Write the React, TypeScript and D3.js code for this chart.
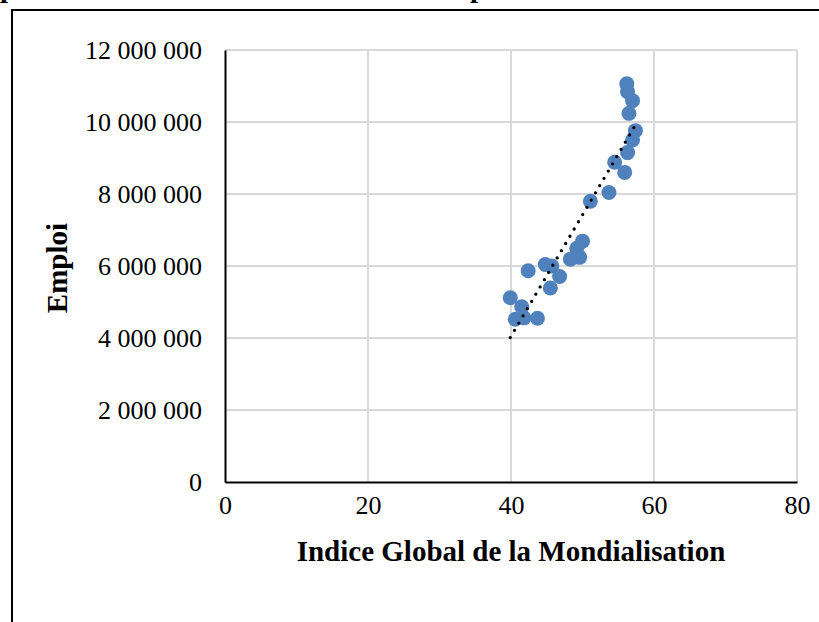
import React, { useEffect, useRef } from 'react';
import * as d3 from 'd3';

// Indice Global de la Mondialisation (x) vs Emploi (y)
const indice: number[] = [
  56.2, 56.3, 57.0, 56.5, 57.4, 57.0, 56.3, 54.5, 55.9, 53.7, 51.1, 50.0, 49.2,
  48.3, 49.6, 44.8, 45.7, 46.8, 42.4, 45.5, 39.9, 41.5, 40.6, 41.8, 43.7,
];
const emploi: number[] = [
  11060000, 10840000, 10590000, 10240000, 9760000, 9500000, 9150000, 8880000,
  8600000, 8040000, 7800000, 6690000, 6490000, 6190000, 6240000, 6040000,
  6000000, 5710000, 5870000, 5390000, 5120000, 4870000, 4520000, 4560000, 4550000,
];
const xTicks: number[] = [0, 20, 40, 60, 80];
const yTicks: number[] = [0, 2000000, 4000000, 6000000, 8000000, 10000000, 12000000];

const xTitle = 'Indice Global de la Mondialisation';
const yTitle = 'Emploi';

export default function App() {
  const ref = useRef<SVGSVGElement>(null);

  useEffect(() => {
    const svg = d3.select(ref.current);
    svg.selectAll('*').remove();

    const left = 225, right = 797, top = 50, bottom = 482;
    const font = '"Liberation Serif", "Times New Roman", serif';

    const x = d3.scaleLinear().domain([0, 80]).range([left, right]);
    const y = d3.scaleLinear().domain([0, 12000000]).range([bottom, top]);

    // frame around the figure (runs off the page right and bottom)
    svg.append('rect')
      .attr('x', 12).attr('y', 10)
      .attr('width', 900).attr('height', 700)
      .attr('fill', 'none').attr('stroke', '#000').attr('stroke-width', 2);

    // cut-off title above the frame
    svg.append('text')
      .attr('x', 0).attr('y', -3)
      .attr('font-family', font).attr('font-weight', 'bold').attr('font-size', 29)
      .text('p');
    svg.append('text')
      .attr('x', 470).attr('y', -3)
      .attr('font-family', font).attr('font-weight', 'bold').attr('font-size', 29)
      .text('p');

    // gridlines
    const grid = svg.append('g').attr('stroke', '#d9d9d9').attr('stroke-width', 2);
    yTicks.filter(t => t > 0).forEach(t => {
      grid.append('line')
        .attr('x1', left).attr('x2', right)
        .attr('y1', y(t)).attr('y2', y(t));
    });
    xTicks.filter(t => t > 0).forEach(t => {
      grid.append('line')
        .attr('x1', x(t)).attr('x2', x(t))
        .attr('y1', top).attr('y2', bottom);
    });

    // axes
    const yAxis = svg.append('g')
      .attr('transform', `translate(${left},0)`)
      .call(d3.axisLeft(y).tickValues(yTicks).tickSize(0).tickPadding(23)
        .tickFormat(d => d3.format(',')(d as number).replace(/,/g, '\u00a0')));
    yAxis.select('.domain').attr('stroke', '#000').attr('stroke-width', 2);
    yAxis.selectAll('text')
      .attr('font-family', font).attr('font-size', 26).attr('fill', '#000');

    const xAxis = svg.append('g')
      .attr('transform', `translate(0,${bottom})`)
      .call(d3.axisBottom(x).tickValues(xTicks).tickSize(0).tickPadding(14));
    xAxis.select('.domain').attr('stroke', '#000').attr('stroke-width', 2);
    xAxis.selectAll('text')
      .attr('font-family', font).attr('font-size', 26).attr('fill', '#000');

    // axis titles
    svg.append('text')
      .attr('x', (left + right) / 2 - 0).attr('y', 561)
      .attr('text-anchor', 'middle')
      .attr('font-family', font).attr('font-weight', 'bold').attr('font-size', 29)
      .text(xTitle);
    svg.append('text')
      .attr('transform', `translate(67,${(top + bottom) / 2 + 2}) rotate(-90)`)
      .attr('text-anchor', 'middle')
      .attr('font-family', font).attr('font-weight', 'bold').attr('font-size', 29)
      .text(yTitle);

    // points
    const data = indice.map((v, i) => ({ x: v, y: emploi[i] }));
    svg.append('g').selectAll('circle')
      .data(data)
      .enter()
      .append('circle')
      .attr('cx', d => x(d.x))
      .attr('cy', d => y(d.y))
      .attr('r', 7.5)
      .attr('fill', '#4f81bd');

    // linear trendline (least squares)
    const mx = d3.mean(indice) as number;
    const my = d3.mean(emploi) as number;
    const slope = d3.sum(data, d => (d.x - mx) * (d.y - my)) / d3.sum(data, d => (d.x - mx) ** 2);
    const x0 = d3.min(indice) as number;
    const x1 = d3.max(indice) as number;
    const f = (v: number) => my + slope * (v - mx);
    svg.append('line')
      .attr('x1', x(x0)).attr('y1', y(f(x0)))
      .attr('x2', x(x1)).attr('y2', y(f(x1)))
      .attr('stroke', '#000').attr('stroke-width', 3.3)
      .attr('stroke-linecap', 'round')
      .attr('stroke-dasharray', '0 8.4');
  }, []);

  return (
    <div style={{ position: 'absolute', left: 0, top: 0 }}>
      <svg ref={ref} width={819} height={622} style={{ display: 'block', background: '#fff' }} />
    </div>
  );
}
